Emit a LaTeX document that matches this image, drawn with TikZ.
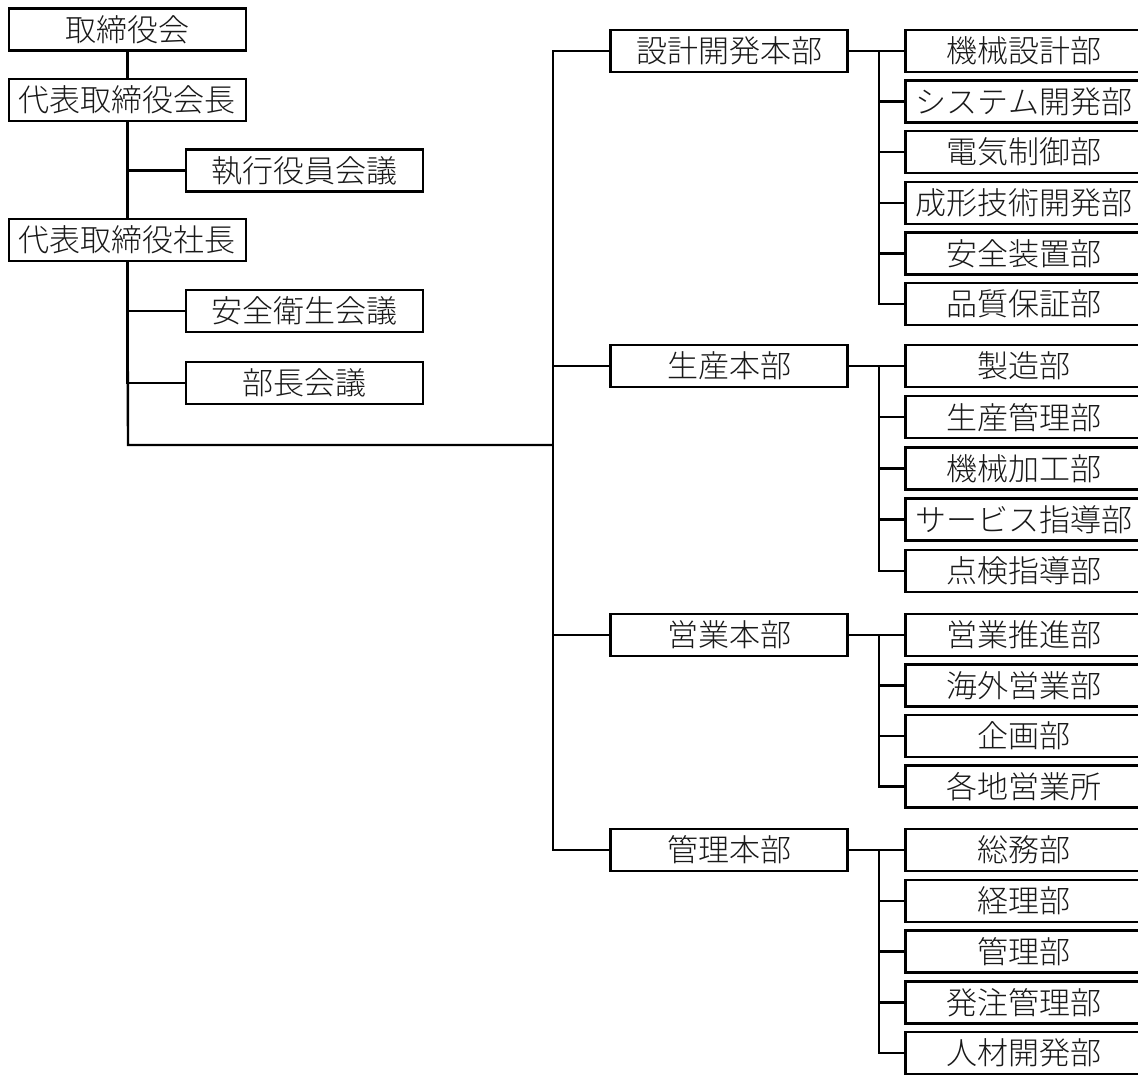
\documentclass[tikz,border=0pt]{standalone}
\usepackage{fontspec}
\newfontfamily\cjk{Noto Sans CJK JP}[UprightFont={* Light}]
\begin{document}
\begin{tikzpicture}[x=1pt,y=-1pt,
  box/.style={draw=black, line width=2.4pt, fill=white, minimum width=237pt, minimum height=42pt,
    inner sep=0pt, font=\cjk\fontsize{31}{31}\selectfont, text=black!90},
  conn/.style={line width=2.4pt, draw=black}]
\useasboundingbox (0,0) rectangle (1138,1075);
\begin{scope}
\clip (0,0) rectangle (1138,1075);
% left column
\node[box] (torishimari) at (127.5,29.5) {取締役会};
\node[box] (kaicho) at (127.5,100) {代表取締役会長};
\node[box] (shikko) at (304.5,170.5) {執行役員会議};
\node[box] (shacho) at (127.5,240) {代表取締役社長};
\node[box] (anzen) at (304.5,311) {安全衛生会議};
\node[box] (bucho) at (304.5,383) {部長会議};
\coordinate (j0) at (128,445);
\coordinate (t) at (553,445);
% headquarters
\node[box] (sekkei) at (729,51) {設計開発本部};
\node[box] (seisan) at (729,366) {生産本部};
\node[box] (eigyo) at (729,635) {営業本部};
\node[box] (kanri) at (729,850) {管理本部};
% children
\node[box] (s1) at (1024,51) {機械設計部};
\node[box] (s2) at (1024,101.6) {システム開発部};
\node[box] (s3) at (1024,152.2) {電気制御部};
\node[box] (s4) at (1024,202.8) {成形技術開発部};
\node[box] (s5) at (1024,253.4) {安全装置部};
\node[box] (s6) at (1024,304) {品質保証部};
\node[box] (p1) at (1024,366) {製造部};
\node[box] (p2) at (1024,417.2) {生産管理部};
\node[box] (p3) at (1024,468.4) {機械加工部};
\node[box] (p4) at (1024,519.6) {サービス指導部};
\node[box] (p5) at (1024,570.8) {点検指導部};
\node[box] (e1) at (1024,635) {営業推進部};
\node[box] (e2) at (1024,685.5) {海外営業部};
\node[box] (e3) at (1024,736) {企画部};
\node[box] (e4) at (1024,786.5) {各地営業所};
\node[box] (k1) at (1024,850) {総務部};
\node[box] (k2) at (1024,900.8) {経理部};
\node[box] (k3) at (1024,951.6) {管理部};
\node[box] (k4) at (1024,1002.4) {発注管理部};
\node[box] (k5) at (1024,1053.2) {人材開発部};
\end{scope}
% connectors
\draw[conn] (torishimari.south) -- (kaicho.north);
\draw[conn] (kaicho.south) -- (shacho.north);
\draw[conn] (kaicho.south) |- (shikko.west);
\draw[conn] (shacho.south) |- (anzen.west);
\draw[conn] (shacho.south) |- (bucho.west);
\draw[conn] (shacho.south) -- (j0) -- (t);
\draw[conn] (t) |- (sekkei.west);
\draw[conn] (t) |- (seisan.west);
\draw[conn] (t) |- (eigyo.west);
\draw[conn] (t) |- (kanri.west);
\draw[conn] (sekkei.east) -- (s1.west);
\foreach \c in {s2,s3,s4,s5,s6} \draw[conn] ([xshift=30pt]sekkei.east) |- (\c.west);
\draw[conn] (seisan.east) -- (p1.west);
\foreach \c in {p2,p3,p4,p5} \draw[conn] ([xshift=30pt]seisan.east) |- (\c.west);
\draw[conn] (eigyo.east) -- (e1.west);
\foreach \c in {e2,e3,e4} \draw[conn] ([xshift=30pt]eigyo.east) |- (\c.west);
\draw[conn] (kanri.east) -- (k1.west);
\foreach \c in {k2,k3,k4,k5} \draw[conn] ([xshift=30pt]kanri.east) |- (\c.west);
\end{tikzpicture}
\end{document}
